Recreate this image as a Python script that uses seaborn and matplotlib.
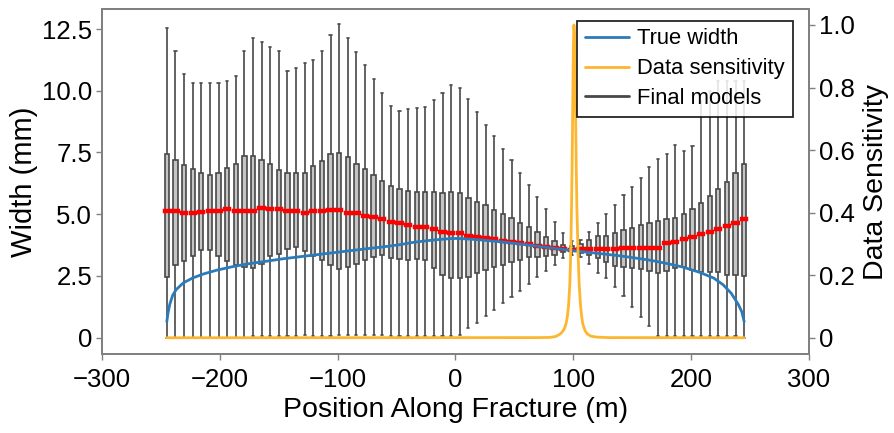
import numpy as np
import pandas as pd
import matplotlib
matplotlib.use("Agg")
import matplotlib.pyplot as plt
import seaborn as sns
from matplotlib.lines import Line2D

sns.set_theme(style="ticks")
plt.rcParams['font.family'] = ['Liberation Sans', 'DejaVu Sans']
plt.rcParams['text.color'] = 'black'
plt.rcParams['axes.labelcolor'] = 'black'

# Model sampling positions along the fracture (m)
positions = np.linspace(-245, 245, 68)

# Box statistics of the final models at each position (mm)
whisker_hi = [12.53, 11.61, 10.68, 10.32, 10.32, 10.32, 10.32, 10.40, 10.60, 11.61,
              12.12, 11.97, 11.77, 11.61, 10.81, 10.93, 11.11, 11.24, 11.61, 12.24,
              12.70, 12.12, 11.55, 11.04, 10.46, 9.89, 9.38, 9.20, 9.25, 9.29,
              9.35, 9.62, 9.92, 10.22, 10.12, 9.66, 9.14, 8.62, 8.17, 7.65,
              7.19, 6.68, 6.17, 5.71, 5.20, 4.70, 4.23, 3.90, 3.95, 4.29,
              4.63, 5.00, 5.37, 5.78, 6.11, 6.48, 6.90, 7.23, 7.44, 7.80,
              7.56, 7.77, 9.60, 10.00, 10.40, 10.40, 10.40, 10.40]
upper_q = [7.44, 7.19, 6.99, 6.83, 6.68, 6.59, 6.68, 6.88, 7.03, 7.36,
           7.36, 7.19, 7.03, 6.79, 6.66, 6.66, 6.68, 6.95, 7.17, 7.44,
           7.49, 7.30, 7.04, 6.83, 6.59, 6.36, 6.15, 6.01, 5.95, 5.91,
           5.90, 5.90, 5.87, 5.91, 5.87, 5.64, 5.51, 5.37, 5.17, 5.00,
           4.83, 4.66, 4.49, 4.29, 4.09, 3.91, 3.75, 3.70, 3.80, 3.96,
           4.10, 4.10, 4.25, 4.35, 4.45, 4.55, 4.65, 4.74, 4.79, 4.83,
           4.99, 5.20, 5.44, 5.74, 6.01, 6.32, 6.68, 7.05]
median = [5.15, 5.15, 5.05, 5.05, 5.08, 5.13, 5.13, 5.20, 5.15, 5.15,
          5.15, 5.24, 5.20, 5.20, 5.15, 5.15, 5.07, 5.13, 5.13, 5.17,
          5.17, 5.07, 5.03, 4.94, 4.87, 4.79, 4.70, 4.66, 4.56, 4.50,
          4.47, 4.39, 4.29, 4.25, 4.23, 4.12, 4.06, 4.02, 3.98, 3.93,
          3.86, 3.82, 3.78, 3.72, 3.68, 3.62, 3.58, 3.55, 3.58, 3.58,
          3.60, 3.60, 3.60, 3.63, 3.63, 3.63, 3.63, 3.63, 3.82, 3.89,
          3.98, 4.06, 4.19, 4.29, 4.39, 4.52, 4.66, 4.80]
lower_q = [2.47, 2.94, 3.12, 3.31, 3.55, 3.55, 3.31, 3.12, 2.94, 2.85,
           2.81, 3.00, 3.31, 3.41, 3.58, 3.68, 3.52, 3.31, 3.15, 2.94,
           2.77, 2.85, 3.00, 3.15, 3.25, 3.35, 3.21, 3.19, 3.15, 3.19,
           3.15, 2.81, 2.54, 2.40, 2.40, 2.47, 2.61, 2.74, 2.85, 2.94,
           3.08, 3.15, 3.25, 3.28, 3.31, 3.35, 3.48, 3.50, 3.44, 3.35,
           3.21, 3.05, 2.90, 2.85, 2.82, 2.78, 2.72, 2.62, 2.71, 2.81,
           2.85, 2.74, 2.67, 2.67, 2.67, 2.54, 2.54, 2.50]
whisker_lo = [0.00, 0.00, 0.00, 0.00, 0.00, 0.00, 0.00, 0.00, 0.00, 0.00,
              0.05, 0.05, 0.06, 0.06, 0.08, 0.08, 0.10, 0.08, 0.08, 0.08,
              0.10, 0.10, 0.10, 0.10, 0.10, 0.10, 0.08, 0.08, 0.08, 0.08,
              0.08, 0.08, 0.08, 0.08, 0.10, 0.38, 0.58, 0.88, 1.12, 1.39,
              1.63, 1.90, 2.17, 2.47, 2.71, 2.94, 3.21, 3.35, 3.25, 3.00,
              2.63, 2.40, 2.05, 1.70, 1.25, 0.85, 0.47, 0.05, 0.05, 0.05,
              0.05, 0.05, 0.05, 0.05, 0.05, 0.05, 0.05, 0.00]

# True fracture width profile (mm)
true_x = [-245, -244, -242.5, -240, -237, -231, -223, -214, -203, -189, -175, -160,
          -146, -132, -118, -104, -90, -76, -61, -47, -36, -20, -8, 0, 10, 21, 35,
          49, 63, 77, 97, 120, 137, 151, 165, 179, 193, 207, 219, 227, 234, 240,
          243, 245]
true_w = [0.65, 1.00, 1.35, 1.72, 1.95, 2.22, 2.42, 2.58, 2.73, 2.88, 3.00, 3.10,
          3.20, 3.28, 3.36, 3.44, 3.52, 3.60, 3.68, 3.77, 3.86, 3.95, 4.00, 4.02,
          4.00, 3.96, 3.90, 3.83, 3.75, 3.66, 3.54, 3.42, 3.33, 3.24, 3.14, 3.01,
          2.86, 2.65, 2.42, 2.15, 1.80, 1.35, 1.05, 0.65]

# Data sensitivity along the fracture
sens_x = [-245, 70, 80, 85, 88, 90, 92, 93, 94, 95, 96, 97, 97.5, 98, 98.5, 99,
          99.5, 100, 100.5, 101, 101.5, 102, 102.5, 103, 104, 105, 106, 107, 108,
          110, 112, 115, 120, 130, 245]
sens_v = [0.0, 0.0005, 0.001, 0.004, 0.010, 0.016, 0.026, 0.035, 0.048, 0.070,
          0.105, 0.17, 0.23, 0.31, 0.42, 0.56, 0.74, 0.92, 1.0, 0.97, 0.85,
          0.70, 0.54, 0.42, 0.27, 0.17, 0.11, 0.070, 0.045, 0.022, 0.012,
          0.005, 0.002, 0.0005, 0.0]

rows = []
for x, lo, a, m, b, hi in zip(positions, whisker_lo, lower_q, median, upper_q, whisker_hi):
    for v in (lo, a, m, b, hi):
        rows.append((x, v))
models = pd.DataFrame(rows, columns=["position", "width"])

blue = "#2b7bba"
orange = "#fdb62f"
gray = "#484848"
spine_gray = "#808080"

fig = plt.figure(figsize=(8.94, 4.33), dpi=100)
ax = fig.add_axes([0.1141, 0.1824, 0.7908, 0.7968])

sns.boxplot(data=models, x="position", y="width", native_scale=True, whis=np.inf,
            width=0.5, color="#c4c4c4", linecolor=gray, linewidth=1.2, saturation=1,
            medianprops=dict(color="red", linewidth=3.2, solid_capstyle="projecting"),
            ax=ax)
sns.lineplot(x=true_x, y=true_w, ax=ax, color=blue, linewidth=2.0, zorder=5)

ax2 = ax.twinx()
sns.lineplot(x=sens_x, y=sens_v, ax=ax2, color=orange, linewidth=2.0)

ax.set_xlim(-300, 300)
ax.set_ylim(-0.66, 13.31)
ax2.set_ylim(-0.052, 1.051)

ax.set_xticks([-300, -200, -100, 0, 100, 200, 300])
ax.set_yticks([0, 2.5, 5, 7.5, 10, 12.5])
ax.set_yticklabels(["0", "2.5", "5.0", "7.5", "10.0", "12.5"])
ax2.set_yticks([0, 0.2, 0.4, 0.6, 0.8, 1.0])
ax2.set_yticklabels(["0", "0.2", "0.4", "0.6", "0.8", "1.0"])

ax.set_xlabel("Position Along Fracture (m)", fontsize=20.5, labelpad=4, color="black")
ax.set_ylabel("Width (mm)", fontsize=21, labelpad=3, color="black")
ax2.set_ylabel("Data Sensitivity", fontsize=20.5, labelpad=6, color="black")

for a in (ax, ax2):
    a.tick_params(axis="both", labelsize=18.5, length=4, width=1.0,
                  color=spine_gray, labelcolor="black", direction="out", pad=3)
    for s in a.spines.values():
        s.set_color(spine_gray)
        s.set_linewidth(1.3)
ax.tick_params(axis="x", pad=6)

handles = [Line2D([], [], color=blue, lw=2),
           Line2D([], [], color=orange, lw=2),
           Line2D([], [], color=gray, lw=2)]
labels = ["True width", "Data sensitivity", "Final models"]
leg = ax2.legend(handles, labels, loc="upper right", bbox_to_anchor=(0.977, 0.966),
                 borderaxespad=0, fontsize=15.8, frameon=True, fancybox=False,
                 framealpha=0.85, edgecolor="black", handlelength=2.0,
                 handletextpad=0.4, labelspacing=0.4, borderpad=0.35)
leg.get_frame().set_linewidth(1.3)
for t in leg.get_texts():
    t.set_color("black")

fig.savefig("out.png", dpi=100)
